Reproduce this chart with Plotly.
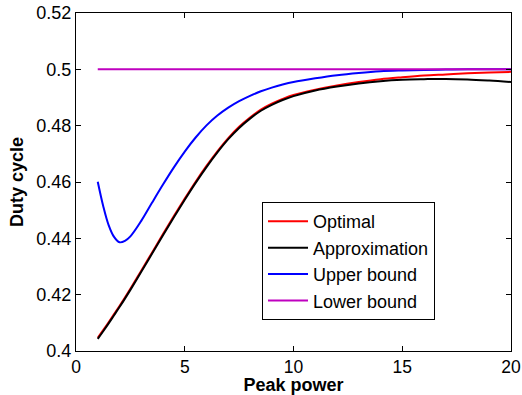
import plotly.graph_objects as go

peak_power = [1.0, 1.25, 1.5, 1.75, 2.0, 2.25, 2.5, 3.0, 3.5, 4.0, 4.5, 5.0, 5.5, 6.0, 6.5, 7.0,
              7.5, 8.0, 8.5, 9.0, 9.5, 10.0, 11.0, 12.0, 13.0, 14.0, 15.0, 16.0, 17.0, 18.0,
              19.0, 20.0]

approximation = [0.4043, 0.4070, 0.4098, 0.4127, 0.4156, 0.4186, 0.4217, 0.4281, 0.4346, 0.4411,
                 0.4475, 0.4537, 0.4597, 0.4653, 0.4705, 0.4752, 0.4792, 0.4825, 0.4853, 0.4874,
                 0.4891, 0.4905, 0.4925, 0.4939, 0.4950, 0.4958, 0.4963, 0.4965, 0.4966, 0.4964,
                 0.4960, 0.4955]

optimal = [0.4047, 0.4074, 0.4102, 0.4131, 0.4160, 0.4190, 0.4221, 0.4285, 0.4350, 0.4415,
           0.4479, 0.4541, 0.4601, 0.4657, 0.4709, 0.4756, 0.4796, 0.4829, 0.4857, 0.4878,
           0.4895, 0.4909, 0.4928, 0.4943, 0.4955, 0.4965, 0.4972, 0.4978, 0.4982, 0.4986,
           0.4989, 0.4991]

upper_bound = [0.4601, 0.4515, 0.4447, 0.4405, 0.4386, 0.4391, 0.4407, 0.4462, 0.4527, 0.4591,
               0.4652, 0.4708, 0.4758, 0.4801, 0.4836, 0.4864, 0.4887, 0.4906, 0.4922, 0.4935,
               0.4946, 0.4955, 0.4968, 0.4979, 0.4987, 0.4993, 0.4996, 0.4998, 0.4999, 0.5000,
               0.5000, 0.5000]

lower_bound = [0.5] * len(peak_power)

y_ticks = [0.40, 0.42, 0.44, 0.46, 0.48, 0.50, 0.52]
y_tick_labels = ["0.4", "0.42", "0.44", "0.46", "0.48", "0.5", "0.52"]
x_ticks = [0, 5, 10, 15, 20]

series = [
    ("Optimal", optimal, "rgb(255,0,0)"),
    ("Approximation", approximation, "rgb(0,0,0)"),
    ("Upper bound", upper_bound, "rgb(0,0,255)"),
    ("Lower bound", lower_bound, "rgb(191,0,191)"),
]

FONT = "Liberation Sans, Arial, Helvetica"

fig = go.Figure()
for name, ys, color in series:
    fig.add_trace(go.Scatter(
        x=peak_power, y=ys, name=name, mode="lines",
        line=dict(color=color, width=2, shape="spline", smoothing=1.0),
    ))

axis_common = dict(
    showline=True, linecolor="black", linewidth=1, mirror="ticks",
    ticks="inside", ticklen=5, tickcolor="black", tickwidth=1,
    showgrid=False, zeroline=False, automargin=False,
    ticklabeloverflow="allow",
)

fig.update_xaxes(range=[0, 20], tickvals=x_ticks,
                 tickfont=dict(family=FONT, size=17.5, color="black"),
                 title=dict(text="<b>Peak power</b>", standoff=4,
                            font=dict(family=FONT, size=18, color="black")),
                 **axis_common)
fig.update_yaxes(range=[0.40, 0.52], tickvals=y_ticks, ticktext=y_tick_labels,
                 tickfont=dict(family=FONT, size=18, color="black"),
                 title=dict(text="<b>Duty cycle</b>", standoff=8,
                            font=dict(family=FONT, size=18, color="black")),
                 **axis_common)

fig.update_layout(
    width=522, height=395,
    margin=dict(l=76, r=11, t=13, b=44),
    paper_bgcolor="white", plot_bgcolor="white",
    showlegend=True,
    legend=dict(
        x=0.4276, y=0.266, xanchor="left", yanchor="middle",
        bgcolor="white", bordercolor="black", borderwidth=1,
        font=dict(family=FONT, size=18, color="black"),
        traceorder="normal", itemwidth=40,
    ),
)

# remove the default 8px body margin so the figure sits at the window's top-left corner
fig.write_html("out.html", config={"displayModeBar": False},
               post_script="document.body.style.margin='0';")
